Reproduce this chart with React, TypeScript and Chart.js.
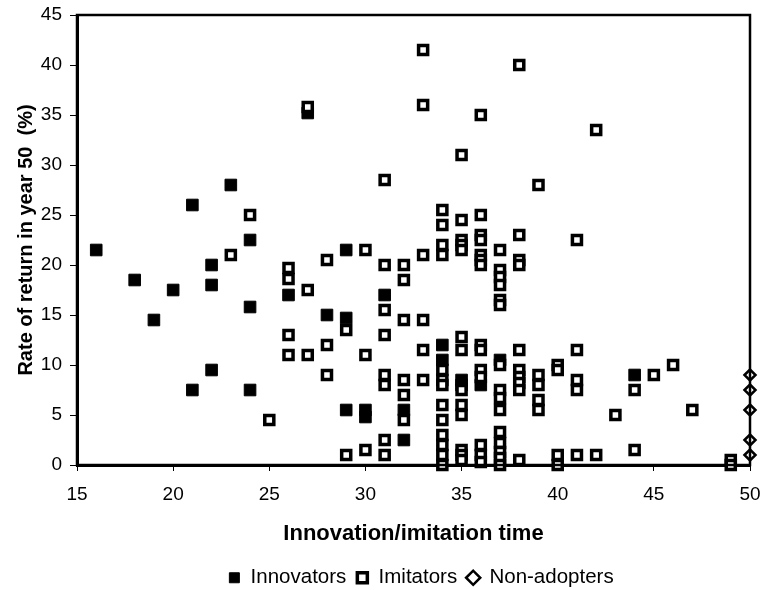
import React, { useEffect, useRef } from "react";
import { Chart, registerables } from "chart.js";

Chart.register(...registerables);

// Innovators (filled squares): [time, rate]
const innovatorsX = [16, 18, 19, 20, 21, 21, 22, 22, 22, 23, 24, 24, 24, 26, 27, 28, 29, 29, 29, 30, 30, 31, 32, 32, 34, 34, 35, 35, 36, 37, 44];
const innovatorsY = [21.5, 18.5, 14.5, 17.5, 26, 7.5, 20, 18, 9.5, 28, 22.5, 15.8, 7.5, 17, 35.2, 15, 21.5, 14.7, 5.5, 5.5, 4.8, 17, 5.5, 2.5, 12, 10.5, 8.5, 8, 8, 10.5, 9];

// Imitators (hollow squares), grouped by time
const imitatorTimes = [23, 24, 25, 26, 27, 28, 29, 30, 31, 32, 33, 34, 35, 36, 37, 38, 39, 40, 41, 42, 43, 44, 45, 46, 47, 49];
const imitatorRates: number[][] = [
  [21],
  [25],
  [4.5],
  [19.7, 18.6, 13, 11],
  [35.8, 17.5, 11],
  [20.5, 12, 9],
  [13.5, 1],
  [21.5, 11, 1.5],
  [28.5, 20, 15.5, 13, 9, 8, 2.5, 1],
  [20, 18.5, 14.5, 8.5, 7, 4.5],
  [41.5, 36, 21, 14.5, 11.5, 8.5],
  [25.5, 24, 22, 21, 9.5, 8.5, 8, 6, 4.5, 3, 2, 1, 0],
  [31, 24.5, 22.5, 22, 21.5, 12.8, 11.5, 7.5, 6, 5, 1.5, 1, 0.5],
  [35, 25, 23, 22.5, 21, 20.5, 20, 12, 11.5, 9.5, 8.8, 2, 1, 0.3],
  [21.5, 19.5, 18.8, 18, 16.5, 16, 10, 7.5, 6.7, 5.5, 3.3, 2.2, 1.3, 0.7, 0],
  [40, 23, 20.5, 20, 11.5, 9.5, 8.8, 8.2, 7.5, 0.5],
  [28, 9, 8, 6.5, 5.5],
  [10, 9.5, 1, 0],
  [22.5, 11.5, 8.5, 7.5, 1],
  [33.5, 1],
  [5],
  [7.5, 1.5],
  [9],
  [10],
  [5.5],
  [0.5, 0],
];

// Non-adopters (hollow diamonds)
const nonAdoptersX = [50, 50, 50, 50, 50];
const nonAdoptersY = [9, 7.5, 5.5, 2.5, 1];

const xTitle = "Innovation/imitation time";
const yTitle = "Rate of return in year 50  (%)";
const seriesNames = ["Innovators", "Imitators", "Non-adopters"];

const FONT = "'Liberation Sans', Arial, sans-serif";

const frame = {
  id: "frame",
  afterLayout(chart: any) {
    const lg = chart.legend;
    if (lg) {
      lg.left += 46;
      lg.right += 46;
    }
  },
  afterDatasetsDraw(chart: any) {
    const { ctx, chartArea } = chart;
    ctx.save();
    ctx.strokeStyle = "#000";
    ctx.lineWidth = 2.5;
    ctx.strokeRect(chartArea.left, chartArea.top, chartArea.right - chartArea.left, chartArea.bottom - chartArea.top);
    ctx.restore();
  },
};

const zeroPad = (s: any) => {
  s.paddingTop = 0;
  s.paddingBottom = 0;
  s.paddingLeft = 0;
  s.paddingRight = 0;
};

export default function App() {
  const ref = useRef<HTMLCanvasElement | null>(null);

  useEffect(() => {
    document.body.style.margin = "0";
    const innov = innovatorsX.map((x, i) => ({ x, y: innovatorsY[i] }));
    const imit: { x: number; y: number }[] = [];
    imitatorTimes.forEach((t, i) => imitatorRates[i].forEach((r) => imit.push({ x: t, y: r })));
    const non = nonAdoptersX.map((x, i) => ({ x, y: nonAdoptersY[i] }));

    const chart = new Chart(ref.current!, {
      type: "scatter",
      data: {
        datasets: [
          {
            label: seriesNames[0],
            data: innov,
            order: 2,
            pointStyle: "rect",
            pointRadius: 8.2,
            backgroundColor: "#000",
            borderColor: "#000",
            borderWidth: 1,
          },
          {
            label: seriesNames[1],
            data: imit,
            order: 1,
            pointStyle: "rect",
            pointRadius: 6.4,
            backgroundColor: "#fff",
            borderColor: "#000",
            borderWidth: 3.5,
          },
          {
            label: seriesNames[2],
            data: non,
            order: 0,
            pointStyle: "rectRot",
            pointRadius: 5.5,
            backgroundColor: "#fff",
            borderColor: "#000",
            borderWidth: 2.5,
          },
        ],
      },
      options: {
        animation: false,
        responsive: false,
        clip: false as any,
        layout: { padding: { top: 15, right: 13, left: 0, bottom: -8 } },
        plugins: {
          tooltip: { enabled: false },
          legend: {
            position: "bottom",
            labels: {
              usePointStyle: true,
              boxHeight: 10,
              boxWidth: 12,
              color: "#000",
              font: { family: FONT, size: 20.5 },
              padding: 10,
              sort: (a: any, b: any) => a.datasetIndex - b.datasetIndex,
            },
          },
        },
        scales: {
          x: {
            type: "linear",
            min: 15,
            max: 50,
            afterFit: (s: any) => {
              zeroPad(s);
              s.height = 92.5;
            },
            ticks: { stepSize: 5, color: "#000", font: { family: FONT, size: 19 }, padding: 12 },
            grid: { display: true, drawOnChartArea: false, drawTicks: true, tickLength: 6, color: "#000", lineWidth: 1 },
            border: { display: true, color: "#000", width: 3 },
            title: { display: true, text: xTitle, color: "#000", font: { family: FONT, size: 22, weight: "bold" }, padding: { top: 10, bottom: 10 } },
          },
          y: {
            type: "linear",
            min: 0,
            max: 45,
            afterFit: (s: any) => {
              zeroPad(s);
              s.width = 77;
            },
            ticks: { stepSize: 5, color: "#000", font: { family: FONT, size: 19 }, padding: 8 },
            grid: { display: true, drawOnChartArea: false, drawTicks: true, tickLength: 7, color: "#000", lineWidth: 1 },
            border: { display: true, color: "#000", width: 3 },
            title: { display: true, text: yTitle, color: "#000", font: { family: FONT, size: 20, weight: "bold" }, padding: { top: 14, bottom: 4 } },
          },
        },
      },
      plugins: [frame],
    });
    return () => chart.destroy();
  }, []);

  return (
    <div style={{ width: 763, height: 590 }}>
      <canvas ref={ref} width={763} height={590} style={{ width: 763, height: 590, display: "block" }} />
    </div>
  );
}
